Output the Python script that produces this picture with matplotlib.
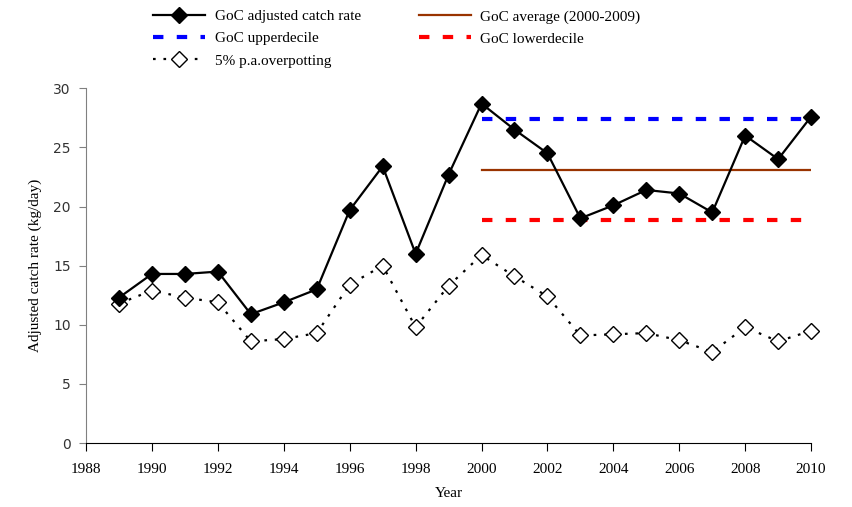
import matplotlib
matplotlib.use('Agg')
import matplotlib.pyplot as plt
from matplotlib.ticker import MultipleLocator

years = [1989, 1990, 1991, 1992, 1993, 1994, 1995, 1996, 1997, 1998, 1999,
         2000, 2001, 2002, 2003, 2004, 2005, 2006, 2007, 2008, 2009, 2010]
catch_rate = [12.3, 14.3, 14.3, 14.5, 10.9, 11.9, 13.0, 19.7, 23.4, 16.0, 22.7,
              28.7, 26.5, 24.5, 19.0, 20.1, 21.4, 21.1, 19.5, 26.0, 24.0, 27.6]
overpotting = [11.8, 12.9, 12.3, 11.9, 8.6, 8.8, 9.3, 13.4, 15.0, 9.8, 13.3,
               15.9, 14.1, 12.4, 9.1, 9.2, 9.3, 8.7, 7.7, 9.8, 8.6, 9.5]
ref_years = [2000, 2010]
average = 23.1
upper_decile = 27.4
lower_decile = 18.9

serif = 'Liberation Serif'

fig = plt.figure(figsize=(8.52, 5.07), dpi=100)
ax = fig.add_axes([0.101, 0.126, 0.851, 0.700])

h_main, = ax.plot(years, catch_rate, color='black', lw=1.6, marker='D', ms=8,
                  mfc='black', mec='black', label='GoC adjusted catch rate',
                  zorder=4, clip_on=False)
h_avg, = ax.plot(ref_years, [average, average], color='#993300', lw=1.6,
                 label='GoC average (2000-2009)', zorder=3)
h_up, = ax.plot(ref_years, [upper_decile, upper_decile], color='#0000ff', lw=3,
                dashes=(2.5, 3.2), label='GoC upperdecile', zorder=2)
h_low, = ax.plot(ref_years, [lower_decile, lower_decile], color='#ff0000', lw=3,
                 dashes=(2.5, 3.2), label='GoC lowerdecile', zorder=2)
h_over, = ax.plot(years, overpotting, color='black', lw=1.6, dashes=(1.2, 3.5),
                  marker='D', ms=8, mfc='white', mec='black', mew=1,
                  label='5% p.a.overpotting', zorder=3, clip_on=False)

ax.set_xlim(1988, 2010)
ax.set_ylim(0, 30)
ax.xaxis.set_major_locator(MultipleLocator(2))
ax.yaxis.set_major_locator(MultipleLocator(5))
ax.spines['top'].set_visible(False)
ax.spines['right'].set_visible(False)
ax.spines['left'].set_color('#808080')
ax.tick_params(axis='y', direction='out', length=5, color='#808080',
               labelsize=10, labelcolor='#333333', pad=6)
ax.tick_params(axis='x', direction='out', length=6, labelsize=11, pad=8)
for lab in ax.get_xticklabels():
    lab.set_fontfamily(serif)

ax.set_xlabel('Year', fontfamily=serif, fontsize=11, labelpad=8)
ax.set_ylabel('Adjusted catch rate (kg/day)', fontfamily=serif, fontsize=11,
              labelpad=8)

fig.legend(handles=[h_main, h_up, h_over, h_avg, h_low], ncol=2,
           loc='upper left', bbox_to_anchor=(0.164, 1.008), frameon=False,
           handlelength=3.4, columnspacing=3.8, labelspacing=0.55,
           prop={'family': serif, 'size': 11}, handletextpad=0.6)

fig.savefig('out.png', dpi=100)
